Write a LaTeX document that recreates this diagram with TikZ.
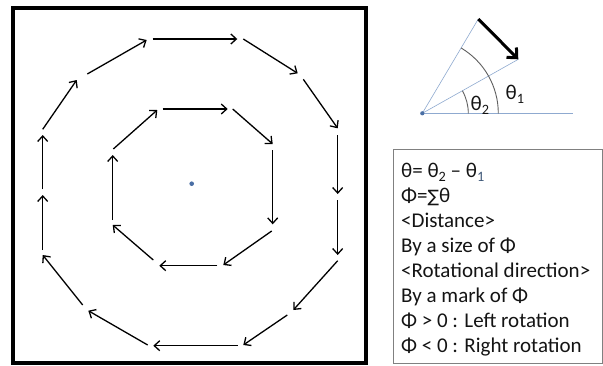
\documentclass[tikz,border=0pt]{standalone}
\usepackage{fontspec}
\usepackage{graphicx}
\setmainfont{Carlito}
\newfontfamily\dejavu{DejaVu Sans}
\usetikzlibrary{arrows.meta,calc}
\definecolor{dotblue}{HTML}{4A6FA5}
\definecolor{lineblue}{HTML}{8FAAD0}
\definecolor{arcgray}{HTML}{606060}
\definecolor{boxgray}{HTML}{808080}
\definecolor{txt}{HTML}{141414}
\definecolor{subblue}{HTML}{3E5878}
\newcommand\sbs[1]{\raisebox{-0.22em}{\scalebox{0.68}{#1}}}
\begin{document}
\begin{tikzpicture}[x=1pt,y=-1pt,
  arr/.style={line width=1.3pt,-{Straight Barb[length=5.5pt,width=10pt]}},
  bigarr/.style={line width=3pt,-{Straight Barb[length=7.5pt,width=14pt]}},
  ray/.style={lineblue,line width=0.8pt},
  arcline/.style={arcgray,line width=0.9pt},
  txtline/.style={anchor=base west,inner sep=0pt,text=txt,font=\fontsize{21}{25}\selectfont},
  lbl/.style={anchor=base west,inner sep=0pt,text=txt,font=\fontsize{21}{25}\selectfont}]
\useasboundingbox (0,0) rectangle (603,365);
\fill[white] (0,0) rectangle (603,365);
% outer square
\draw[line width=4pt] (13,8.3) rectangle (366,362.5);
% outer ring of arrows
\foreach \a/\b/\c/\d in {152.7/39/237.3/39, 243.3/39/297.7/73.3, 303.3/79.3/337.7/128.3,
  337.7/135/337.7/194, 337.7/200/337.7/255, 337.7/260.7/293.3/310, 287.3/315/243.3/345,
  237.7/345.7/153.3/345.7, 147.7/345/88.3/310.7, 82.7/305/42.7/255, 42.7/250/42.7/195,
  42.7/189.3/42.7/135, 42.7/129.3/76.7/80, 87.3/74/146.7/40}
  \draw[arr] (\a,\b) -- (\c,\d);
% inner ring of arrows
\foreach \a/\b/\c/\d in {162.7/109/227.7/109, 232.7/109/272.7/144, 272.7/150/272.7/224.3,
  271.7/231/223.3/265, 217.3/265.7/159.3/265.7, 153.3/260/112.7/225, 112.7/220/112.7/155,
  113.3/149/157.3/110}
  \draw[arr] (\a,\b) -- (\c,\d);
% centre dot
\fill[dotblue] (191.7,183.7) circle (2.3);
% angle diagram
\coordinate (O) at (422.3,113.3);
\coordinate (H) at (573.3,113.3);
\coordinate (U) at (478.3,19);
\coordinate (M) at (518.3,59.3);
\draw[ray] (O) -- (H);
\draw[ray,line width=0.6pt] (O) -- (U);
\draw[ray,line width=0.6pt] (O) -- (M);
\draw[arcline] ($(O)+(76,0)$) arc[start angle=0,end angle=-59.3,radius=76];
\draw[arcline] ($(O)+(46,0)$) arc[start angle=0,end angle=-29.4,radius=46];
\draw[bigarr] (U) -- (M);
\fill[dotblue] (O) circle (2.1);
\node[lbl] (t1) at (505.5,99) {θ\sbs{1}};
\node[lbl] (t2) at (470.5,110) {θ\sbs{2}};
% text box
\draw[boxgray,line width=0.9pt] (393.3,149.3) rectangle (602.5,363.5);
\node[txtline] (l1) at (401,177) {θ= θ\sbs{2} – θ\sbs{\textcolor{subblue}{1}}};
\node[txtline] (l2) at (401,202) {Φ={\dejavu\fontsize{17}{20}\selectfont ∑}θ};
\node[txtline] (l3) at (401,227) {<Distance>};
\node[txtline] (l4) at (401,252) {By a size of Φ};
\node[txtline] (l5) at (401,277) {<Rotational direction>};
\node[txtline] (l6) at (401,302) {By a mark of Φ};
\node[txtline] (l7) at (401,327) {Φ > 0 : Left rotation};
\node[txtline] (l8) at (401,352) {Φ < 0 : Right rotation};
\end{tikzpicture}
\end{document}
